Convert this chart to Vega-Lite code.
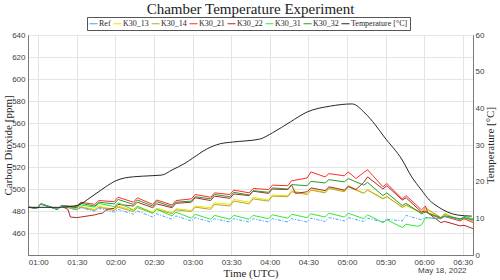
{
  "$schema": "https://vega.github.io/schema/vega-lite/v6.json",
  "width": 445,
  "height": 220,
  "autosize": {"type": "none"},
  "padding": {"left": 28, "top": 35, "right": 27, "bottom": 25},
  "title": {"text": "Chamber Temperature Experiment", "font": "Liberation Serif", "fontSize": 15, "fontWeight": "normal", "color": "#222222", "anchor": "middle", "offset": 0},
  "datasets": {
    "co2": [
      {"t":"2022-05-18T00:52:00Z","s":"Ref","v":483.5},{"t":"2022-05-18T00:59:00Z","s":"Ref","v":482.5},{"t":"2022-05-18T01:02:00Z","s":"Ref","v":486.5},{"t":"2022-05-18T01:15:00Z","s":"Ref","v":481.5},{"t":"2022-05-18T01:18:00Z","s":"Ref","v":484.5},{"t":"2022-05-18T01:30:00Z","s":"Ref","v":481},{"t":"2022-05-18T01:33:00Z","s":"Ref","v":483},{"t":"2022-05-18T01:44:00Z","s":"Ref","v":480},{"t":"2022-05-18T01:47:00Z","s":"Ref","v":482.5},{"t":"2022-05-18T01:59:00Z","s":"Ref","v":479},{"t":"2022-05-18T02:02:00Z","s":"Ref","v":481.5},{"t":"2022-05-18T02:14:00Z","s":"Ref","v":477},{"t":"2022-05-18T02:17:00Z","s":"Ref","v":480},{"t":"2022-05-18T02:29:00Z","s":"Ref","v":474.5},{"t":"2022-05-18T02:32:00Z","s":"Ref","v":477.5},{"t":"2022-05-18T02:44:00Z","s":"Ref","v":472.5},{"t":"2022-05-18T02:47:00Z","s":"Ref","v":475.5},{"t":"2022-05-18T02:59:00Z","s":"Ref","v":471},{"t":"2022-05-18T03:02:00Z","s":"Ref","v":474},{"t":"2022-05-18T03:14:00Z","s":"Ref","v":470},{"t":"2022-05-18T03:17:00Z","s":"Ref","v":473},{"t":"2022-05-18T03:29:00Z","s":"Ref","v":470},{"t":"2022-05-18T03:32:00Z","s":"Ref","v":473},{"t":"2022-05-18T03:44:00Z","s":"Ref","v":470},{"t":"2022-05-18T03:47:00Z","s":"Ref","v":473},{"t":"2022-05-18T03:59:00Z","s":"Ref","v":470},{"t":"2022-05-18T04:02:00Z","s":"Ref","v":473},{"t":"2022-05-18T04:14:00Z","s":"Ref","v":470},{"t":"2022-05-18T04:17:00Z","s":"Ref","v":473},{"t":"2022-05-18T04:29:00Z","s":"Ref","v":470},{"t":"2022-05-18T04:32:00Z","s":"Ref","v":473.5},{"t":"2022-05-18T04:43:00Z","s":"Ref","v":470.5},{"t":"2022-05-18T04:46:00Z","s":"Ref","v":474},{"t":"2022-05-18T04:58:00Z","s":"Ref","v":471},{"t":"2022-05-18T05:01:00Z","s":"Ref","v":474},{"t":"2022-05-18T05:13:00Z","s":"Ref","v":470.5},{"t":"2022-05-18T05:16:00Z","s":"Ref","v":473.5},{"t":"2022-05-18T05:28:00Z","s":"Ref","v":470},{"t":"2022-05-18T05:31:00Z","s":"Ref","v":472.5},{"t":"2022-05-18T05:43:00Z","s":"Ref","v":471},{"t":"2022-05-18T05:46:00Z","s":"Ref","v":476},{"t":"2022-05-18T05:58:00Z","s":"Ref","v":472},{"t":"2022-05-18T06:01:00Z","s":"Ref","v":474},{"t":"2022-05-18T06:13:00Z","s":"Ref","v":473},{"t":"2022-05-18T06:16:00Z","s":"Ref","v":475},{"t":"2022-05-18T06:28:00Z","s":"Ref","v":472},{"t":"2022-05-18T06:31:00Z","s":"Ref","v":474},{"t":"2022-05-18T06:38:00Z","s":"Ref","v":472},
      {"t":"2022-05-18T00:52:00Z","s":"K30_13","v":483.5},{"t":"2022-05-18T00:59:00Z","s":"K30_13","v":482.5},{"t":"2022-05-18T01:02:00Z","s":"K30_13","v":486.5},{"t":"2022-05-18T01:15:00Z","s":"K30_13","v":481.5},{"t":"2022-05-18T01:18:00Z","s":"K30_13","v":485},{"t":"2022-05-18T01:30:00Z","s":"K30_13","v":481.5},{"t":"2022-05-18T01:33:00Z","s":"K30_13","v":484},{"t":"2022-05-18T01:44:00Z","s":"K30_13","v":481.5},{"t":"2022-05-18T01:47:00Z","s":"K30_13","v":484.5},{"t":"2022-05-18T01:59:00Z","s":"K30_13","v":481.5},{"t":"2022-05-18T02:02:00Z","s":"K30_13","v":484.5},{"t":"2022-05-18T02:14:00Z","s":"K30_13","v":480.5},{"t":"2022-05-18T02:17:00Z","s":"K30_13","v":484},{"t":"2022-05-18T02:29:00Z","s":"K30_13","v":479},{"t":"2022-05-18T02:32:00Z","s":"K30_13","v":482.5},{"t":"2022-05-18T02:44:00Z","s":"K30_13","v":478.5},{"t":"2022-05-18T02:47:00Z","s":"K30_13","v":482},{"t":"2022-05-18T02:59:00Z","s":"K30_13","v":480.5},{"t":"2022-05-18T03:02:00Z","s":"K30_13","v":484.5},{"t":"2022-05-18T03:14:00Z","s":"K30_13","v":483},{"t":"2022-05-18T03:17:00Z","s":"K30_13","v":487.5},{"t":"2022-05-18T03:29:00Z","s":"K30_13","v":486},{"t":"2022-05-18T03:32:00Z","s":"K30_13","v":490.5},{"t":"2022-05-18T03:44:00Z","s":"K30_13","v":488},{"t":"2022-05-18T03:47:00Z","s":"K30_13","v":492.5},{"t":"2022-05-18T03:59:00Z","s":"K30_13","v":490},{"t":"2022-05-18T04:02:00Z","s":"K30_13","v":494.5},{"t":"2022-05-18T04:14:00Z","s":"K30_13","v":494},{"t":"2022-05-18T04:17:00Z","s":"K30_13","v":498.5},{"t":"2022-05-18T04:29:00Z","s":"K30_13","v":495.5},{"t":"2022-05-18T04:32:00Z","s":"K30_13","v":499.5},{"t":"2022-05-18T04:43:00Z","s":"K30_13","v":497},{"t":"2022-05-18T04:46:00Z","s":"K30_13","v":501},{"t":"2022-05-18T04:58:00Z","s":"K30_13","v":498.5},{"t":"2022-05-18T05:01:00Z","s":"K30_13","v":503},{"t":"2022-05-18T05:13:00Z","s":"K30_13","v":496.5},{"t":"2022-05-18T05:16:00Z","s":"K30_13","v":499.5},{"t":"2022-05-18T05:28:00Z","s":"K30_13","v":491.5},{"t":"2022-05-18T05:31:00Z","s":"K30_13","v":493.5},{"t":"2022-05-18T05:43:00Z","s":"K30_13","v":483},{"t":"2022-05-18T05:46:00Z","s":"K30_13","v":485},{"t":"2022-05-18T05:58:00Z","s":"K30_13","v":478},{"t":"2022-05-18T06:01:00Z","s":"K30_13","v":482},{"t":"2022-05-18T06:13:00Z","s":"K30_13","v":473.5},{"t":"2022-05-18T06:16:00Z","s":"K30_13","v":478},{"t":"2022-05-18T06:28:00Z","s":"K30_13","v":471.5},{"t":"2022-05-18T06:31:00Z","s":"K30_13","v":473},{"t":"2022-05-18T06:38:00Z","s":"K30_13","v":471},
      {"t":"2022-05-18T00:52:00Z","s":"K30_14","v":483.3},{"t":"2022-05-18T00:59:00Z","s":"K30_14","v":482.3},{"t":"2022-05-18T01:02:00Z","s":"K30_14","v":486},{"t":"2022-05-18T01:15:00Z","s":"K30_14","v":481.3},{"t":"2022-05-18T01:18:00Z","s":"K30_14","v":484.5},{"t":"2022-05-18T01:30:00Z","s":"K30_14","v":481},{"t":"2022-05-18T01:33:00Z","s":"K30_14","v":483.5},{"t":"2022-05-18T01:44:00Z","s":"K30_14","v":480.5},{"t":"2022-05-18T01:47:00Z","s":"K30_14","v":483.5},{"t":"2022-05-18T01:59:00Z","s":"K30_14","v":480.5},{"t":"2022-05-18T02:02:00Z","s":"K30_14","v":483.5},{"t":"2022-05-18T02:14:00Z","s":"K30_14","v":479.5},{"t":"2022-05-18T02:17:00Z","s":"K30_14","v":483},{"t":"2022-05-18T02:29:00Z","s":"K30_14","v":478},{"t":"2022-05-18T02:32:00Z","s":"K30_14","v":481.5},{"t":"2022-05-18T02:44:00Z","s":"K30_14","v":477.5},{"t":"2022-05-18T02:47:00Z","s":"K30_14","v":481},{"t":"2022-05-18T02:59:00Z","s":"K30_14","v":479.5},{"t":"2022-05-18T03:02:00Z","s":"K30_14","v":483.5},{"t":"2022-05-18T03:14:00Z","s":"K30_14","v":481.5},{"t":"2022-05-18T03:17:00Z","s":"K30_14","v":486},{"t":"2022-05-18T03:29:00Z","s":"K30_14","v":484.5},{"t":"2022-05-18T03:32:00Z","s":"K30_14","v":489},{"t":"2022-05-18T03:44:00Z","s":"K30_14","v":486.5},{"t":"2022-05-18T03:47:00Z","s":"K30_14","v":491},{"t":"2022-05-18T03:59:00Z","s":"K30_14","v":489},{"t":"2022-05-18T04:02:00Z","s":"K30_14","v":493.5},{"t":"2022-05-18T04:14:00Z","s":"K30_14","v":493},{"t":"2022-05-18T04:17:00Z","s":"K30_14","v":497.5},{"t":"2022-05-18T04:29:00Z","s":"K30_14","v":495},{"t":"2022-05-18T04:32:00Z","s":"K30_14","v":499},{"t":"2022-05-18T04:43:00Z","s":"K30_14","v":496.5},{"t":"2022-05-18T04:46:00Z","s":"K30_14","v":500.5},{"t":"2022-05-18T04:58:00Z","s":"K30_14","v":497.5},{"t":"2022-05-18T05:01:00Z","s":"K30_14","v":502},{"t":"2022-05-18T05:13:00Z","s":"K30_14","v":496},{"t":"2022-05-18T05:16:00Z","s":"K30_14","v":499},{"t":"2022-05-18T05:28:00Z","s":"K30_14","v":491},{"t":"2022-05-18T05:31:00Z","s":"K30_14","v":493},{"t":"2022-05-18T05:43:00Z","s":"K30_14","v":483.5},{"t":"2022-05-18T05:46:00Z","s":"K30_14","v":485.5},{"t":"2022-05-18T05:58:00Z","s":"K30_14","v":478.5},{"t":"2022-05-18T06:01:00Z","s":"K30_14","v":483},{"t":"2022-05-18T06:13:00Z","s":"K30_14","v":474},{"t":"2022-05-18T06:16:00Z","s":"K30_14","v":477},{"t":"2022-05-18T06:28:00Z","s":"K30_14","v":472},{"t":"2022-05-18T06:31:00Z","s":"K30_14","v":474},{"t":"2022-05-18T06:38:00Z","s":"K30_14","v":471.5},
      {"t":"2022-05-18T00:52:00Z","s":"K30_21","v":483.5},{"t":"2022-05-18T00:59:00Z","s":"K30_21","v":482.5},{"t":"2022-05-18T01:02:00Z","s":"K30_21","v":486.5},{"t":"2022-05-18T01:15:00Z","s":"K30_21","v":481.5},{"t":"2022-05-18T01:18:00Z","s":"K30_21","v":485},{"t":"2022-05-18T01:30:00Z","s":"K30_21","v":484},{"t":"2022-05-18T01:33:00Z","s":"K30_21","v":488},{"t":"2022-05-18T01:44:00Z","s":"K30_21","v":486},{"t":"2022-05-18T01:47:00Z","s":"K30_21","v":489.5},{"t":"2022-05-18T01:59:00Z","s":"K30_21","v":488.5},{"t":"2022-05-18T02:02:00Z","s":"K30_21","v":492.5},{"t":"2022-05-18T02:14:00Z","s":"K30_21","v":488},{"t":"2022-05-18T02:17:00Z","s":"K30_21","v":492},{"t":"2022-05-18T02:29:00Z","s":"K30_21","v":486},{"t":"2022-05-18T02:32:00Z","s":"K30_21","v":490},{"t":"2022-05-18T02:44:00Z","s":"K30_21","v":485.5},{"t":"2022-05-18T02:47:00Z","s":"K30_21","v":489.5},{"t":"2022-05-18T02:59:00Z","s":"K30_21","v":491},{"t":"2022-05-18T03:02:00Z","s":"K30_21","v":495},{"t":"2022-05-18T03:14:00Z","s":"K30_21","v":492.5},{"t":"2022-05-18T03:17:00Z","s":"K30_21","v":496.5},{"t":"2022-05-18T03:29:00Z","s":"K30_21","v":495},{"t":"2022-05-18T03:32:00Z","s":"K30_21","v":499},{"t":"2022-05-18T03:44:00Z","s":"K30_21","v":496.5},{"t":"2022-05-18T03:47:00Z","s":"K30_21","v":500.5},{"t":"2022-05-18T03:59:00Z","s":"K30_21","v":499.5},{"t":"2022-05-18T04:02:00Z","s":"K30_21","v":503.5},{"t":"2022-05-18T04:14:00Z","s":"K30_21","v":503},{"t":"2022-05-18T04:17:00Z","s":"K30_21","v":507.5},{"t":"2022-05-18T04:29:00Z","s":"K30_21","v":510},{"t":"2022-05-18T04:32:00Z","s":"K30_21","v":515.5},{"t":"2022-05-18T04:43:00Z","s":"K30_21","v":511},{"t":"2022-05-18T04:46:00Z","s":"K30_21","v":514},{"t":"2022-05-18T04:58:00Z","s":"K30_21","v":512},{"t":"2022-05-18T05:01:00Z","s":"K30_21","v":515.5},{"t":"2022-05-18T05:07:00Z","s":"K30_21","v":509.5},{"t":"2022-05-18T05:13:00Z","s":"K30_21","v":515},{"t":"2022-05-18T05:16:00Z","s":"K30_21","v":517.5},{"t":"2022-05-18T05:28:00Z","s":"K30_21","v":502},{"t":"2022-05-18T05:31:00Z","s":"K30_21","v":505},{"t":"2022-05-18T05:43:00Z","s":"K30_21","v":491},{"t":"2022-05-18T05:46:00Z","s":"K30_21","v":494},{"t":"2022-05-18T05:58:00Z","s":"K30_21","v":481},{"t":"2022-05-18T06:01:00Z","s":"K30_21","v":484.5},{"t":"2022-05-18T06:03:00Z","s":"K30_21","v":478},{"t":"2022-05-18T06:13:00Z","s":"K30_21","v":473},{"t":"2022-05-18T06:16:00Z","s":"K30_21","v":475},{"t":"2022-05-18T06:28:00Z","s":"K30_21","v":471},{"t":"2022-05-18T06:31:00Z","s":"K30_21","v":473},{"t":"2022-05-18T06:38:00Z","s":"K30_21","v":469.5},
      {"t":"2022-05-18T00:52:00Z","s":"K30_22","v":483.5},{"t":"2022-05-18T00:59:00Z","s":"K30_22","v":482.5},{"t":"2022-05-18T01:02:00Z","s":"K30_22","v":486.5},{"t":"2022-05-18T01:15:00Z","s":"K30_22","v":481.5},{"t":"2022-05-18T01:18:00Z","s":"K30_22","v":485},{"t":"2022-05-18T01:21:00Z","s":"K30_22","v":482.5},{"t":"2022-05-18T01:23:00Z","s":"K30_22","v":481.5},{"t":"2022-05-18T01:25:00Z","s":"K30_22","v":474.5},{"t":"2022-05-18T01:30:00Z","s":"K30_22","v":474},{"t":"2022-05-18T01:33:00Z","s":"K30_22","v":474.5},{"t":"2022-05-18T01:44:00Z","s":"K30_22","v":476.5},{"t":"2022-05-18T01:47:00Z","s":"K30_22","v":477.5},{"t":"2022-05-18T01:50:00Z","s":"K30_22","v":478},{"t":"2022-05-18T01:53:00Z","s":"K30_22","v":481.5},{"t":"2022-05-18T01:59:00Z","s":"K30_22","v":482.5},{"t":"2022-05-18T02:02:00Z","s":"K30_22","v":486},{"t":"2022-05-18T02:14:00Z","s":"K30_22","v":484.5},{"t":"2022-05-18T02:17:00Z","s":"K30_22","v":488},{"t":"2022-05-18T02:29:00Z","s":"K30_22","v":483},{"t":"2022-05-18T02:32:00Z","s":"K30_22","v":486.5},{"t":"2022-05-18T02:44:00Z","s":"K30_22","v":483},{"t":"2022-05-18T02:47:00Z","s":"K30_22","v":487},{"t":"2022-05-18T02:59:00Z","s":"K30_22","v":488},{"t":"2022-05-18T03:02:00Z","s":"K30_22","v":492},{"t":"2022-05-18T03:14:00Z","s":"K30_22","v":489.5},{"t":"2022-05-18T03:17:00Z","s":"K30_22","v":493.5},{"t":"2022-05-18T03:29:00Z","s":"K30_22","v":491.5},{"t":"2022-05-18T03:32:00Z","s":"K30_22","v":495.5},{"t":"2022-05-18T03:44:00Z","s":"K30_22","v":494},{"t":"2022-05-18T03:47:00Z","s":"K30_22","v":498},{"t":"2022-05-18T03:59:00Z","s":"K30_22","v":496},{"t":"2022-05-18T04:02:00Z","s":"K30_22","v":500},{"t":"2022-05-18T04:14:00Z","s":"K30_22","v":499.5},{"t":"2022-05-18T04:17:00Z","s":"K30_22","v":503.5},{"t":"2022-05-18T04:20:00Z","s":"K30_22","v":496},{"t":"2022-05-18T04:29:00Z","s":"K30_22","v":497.5},{"t":"2022-05-18T04:32:00Z","s":"K30_22","v":501},{"t":"2022-05-18T04:43:00Z","s":"K30_22","v":498.5},{"t":"2022-05-18T04:46:00Z","s":"K30_22","v":502},{"t":"2022-05-18T04:58:00Z","s":"K30_22","v":499},{"t":"2022-05-18T05:01:00Z","s":"K30_22","v":502.5},{"t":"2022-05-18T05:07:00Z","s":"K30_22","v":499.5},{"t":"2022-05-18T05:13:00Z","s":"K30_22","v":506},{"t":"2022-05-18T05:16:00Z","s":"K30_22","v":511},{"t":"2022-05-18T05:28:00Z","s":"K30_22","v":500},{"t":"2022-05-18T05:31:00Z","s":"K30_22","v":503},{"t":"2022-05-18T05:43:00Z","s":"K30_22","v":490},{"t":"2022-05-18T05:46:00Z","s":"K30_22","v":492},{"t":"2022-05-18T05:58:00Z","s":"K30_22","v":479},{"t":"2022-05-18T06:01:00Z","s":"K30_22","v":480},{"t":"2022-05-18T06:13:00Z","s":"K30_22","v":469.5},{"t":"2022-05-18T06:16:00Z","s":"K30_22","v":470.5},{"t":"2022-05-18T06:28:00Z","s":"K30_22","v":466.5},{"t":"2022-05-18T06:31:00Z","s":"K30_22","v":467},{"t":"2022-05-18T06:38:00Z","s":"K30_22","v":464},
      {"t":"2022-05-18T00:52:00Z","s":"K30_31","v":483.5},{"t":"2022-05-18T00:59:00Z","s":"K30_31","v":482.5},{"t":"2022-05-18T01:02:00Z","s":"K30_31","v":486.5},{"t":"2022-05-18T01:15:00Z","s":"K30_31","v":481.5},{"t":"2022-05-18T01:18:00Z","s":"K30_31","v":485},{"t":"2022-05-18T01:30:00Z","s":"K30_31","v":482.5},{"t":"2022-05-18T01:33:00Z","s":"K30_31","v":485.5},{"t":"2022-05-18T01:44:00Z","s":"K30_31","v":483.5},{"t":"2022-05-18T01:47:00Z","s":"K30_31","v":487},{"t":"2022-05-18T01:59:00Z","s":"K30_31","v":484},{"t":"2022-05-18T02:02:00Z","s":"K30_31","v":487.5},{"t":"2022-05-18T02:14:00Z","s":"K30_31","v":481},{"t":"2022-05-18T02:17:00Z","s":"K30_31","v":484.5},{"t":"2022-05-18T02:29:00Z","s":"K30_31","v":478},{"t":"2022-05-18T02:32:00Z","s":"K30_31","v":481.5},{"t":"2022-05-18T02:44:00Z","s":"K30_31","v":475.5},{"t":"2022-05-18T02:47:00Z","s":"K30_31","v":479},{"t":"2022-05-18T02:59:00Z","s":"K30_31","v":473.5},{"t":"2022-05-18T03:02:00Z","s":"K30_31","v":477},{"t":"2022-05-18T03:14:00Z","s":"K30_31","v":472.5},{"t":"2022-05-18T03:17:00Z","s":"K30_31","v":476},{"t":"2022-05-18T03:29:00Z","s":"K30_31","v":472.5},{"t":"2022-05-18T03:32:00Z","s":"K30_31","v":476},{"t":"2022-05-18T03:44:00Z","s":"K30_31","v":472.5},{"t":"2022-05-18T03:47:00Z","s":"K30_31","v":476},{"t":"2022-05-18T03:59:00Z","s":"K30_31","v":473},{"t":"2022-05-18T04:02:00Z","s":"K30_31","v":476.5},{"t":"2022-05-18T04:14:00Z","s":"K30_31","v":473.5},{"t":"2022-05-18T04:17:00Z","s":"K30_31","v":477},{"t":"2022-05-18T04:29:00Z","s":"K30_31","v":474},{"t":"2022-05-18T04:32:00Z","s":"K30_31","v":477.5},{"t":"2022-05-18T04:43:00Z","s":"K30_31","v":474.5},{"t":"2022-05-18T04:46:00Z","s":"K30_31","v":478},{"t":"2022-05-18T04:58:00Z","s":"K30_31","v":474.5},{"t":"2022-05-18T05:01:00Z","s":"K30_31","v":478},{"t":"2022-05-18T05:13:00Z","s":"K30_31","v":473},{"t":"2022-05-18T05:16:00Z","s":"K30_31","v":476.5},{"t":"2022-05-18T05:28:00Z","s":"K30_31","v":469.5},{"t":"2022-05-18T05:31:00Z","s":"K30_31","v":472},{"t":"2022-05-18T05:43:00Z","s":"K30_31","v":465},{"t":"2022-05-18T05:46:00Z","s":"K30_31","v":468},{"t":"2022-05-18T05:55:00Z","s":"K30_31","v":466},{"t":"2022-05-18T05:58:00Z","s":"K30_31","v":467.5},{"t":"2022-05-18T06:01:00Z","s":"K30_31","v":474},{"t":"2022-05-18T06:13:00Z","s":"K30_31","v":473},{"t":"2022-05-18T06:16:00Z","s":"K30_31","v":475.5},{"t":"2022-05-18T06:28:00Z","s":"K30_31","v":472.5},{"t":"2022-05-18T06:31:00Z","s":"K30_31","v":475},{"t":"2022-05-18T06:38:00Z","s":"K30_31","v":473},
      {"t":"2022-05-18T00:52:00Z","s":"K30_32","v":483.5},{"t":"2022-05-18T00:59:00Z","s":"K30_32","v":482.5},{"t":"2022-05-18T01:02:00Z","s":"K30_32","v":486.5},{"t":"2022-05-18T01:15:00Z","s":"K30_32","v":481.5},{"t":"2022-05-18T01:18:00Z","s":"K30_32","v":485},{"t":"2022-05-18T01:30:00Z","s":"K30_32","v":483},{"t":"2022-05-18T01:33:00Z","s":"K30_32","v":487},{"t":"2022-05-18T01:44:00Z","s":"K30_32","v":484.5},{"t":"2022-05-18T01:47:00Z","s":"K30_32","v":488},{"t":"2022-05-18T01:59:00Z","s":"K30_32","v":486.5},{"t":"2022-05-18T02:02:00Z","s":"K30_32","v":490.5},{"t":"2022-05-18T02:14:00Z","s":"K30_32","v":486},{"t":"2022-05-18T02:17:00Z","s":"K30_32","v":490},{"t":"2022-05-18T02:29:00Z","s":"K30_32","v":484.5},{"t":"2022-05-18T02:32:00Z","s":"K30_32","v":488.5},{"t":"2022-05-18T02:44:00Z","s":"K30_32","v":484},{"t":"2022-05-18T02:47:00Z","s":"K30_32","v":488},{"t":"2022-05-18T02:59:00Z","s":"K30_32","v":489},{"t":"2022-05-18T03:02:00Z","s":"K30_32","v":493},{"t":"2022-05-18T03:14:00Z","s":"K30_32","v":491},{"t":"2022-05-18T03:17:00Z","s":"K30_32","v":495},{"t":"2022-05-18T03:29:00Z","s":"K30_32","v":493},{"t":"2022-05-18T03:32:00Z","s":"K30_32","v":497},{"t":"2022-05-18T03:44:00Z","s":"K30_32","v":494.5},{"t":"2022-05-18T03:47:00Z","s":"K30_32","v":498.5},{"t":"2022-05-18T03:59:00Z","s":"K30_32","v":497},{"t":"2022-05-18T04:02:00Z","s":"K30_32","v":501},{"t":"2022-05-18T04:14:00Z","s":"K30_32","v":500},{"t":"2022-05-18T04:17:00Z","s":"K30_32","v":504},{"t":"2022-05-18T04:29:00Z","s":"K30_32","v":503},{"t":"2022-05-18T04:32:00Z","s":"K30_32","v":507},{"t":"2022-05-18T04:43:00Z","s":"K30_32","v":505.5},{"t":"2022-05-18T04:46:00Z","s":"K30_32","v":508.5},{"t":"2022-05-18T04:58:00Z","s":"K30_32","v":506.5},{"t":"2022-05-18T05:01:00Z","s":"K30_32","v":509.5},{"t":"2022-05-18T05:13:00Z","s":"K30_32","v":503.5},{"t":"2022-05-18T05:16:00Z","s":"K30_32","v":506},{"t":"2022-05-18T05:28:00Z","s":"K30_32","v":494},{"t":"2022-05-18T05:31:00Z","s":"K30_32","v":496.5},{"t":"2022-05-18T05:43:00Z","s":"K30_32","v":485},{"t":"2022-05-18T05:46:00Z","s":"K30_32","v":487},{"t":"2022-05-18T05:58:00Z","s":"K30_32","v":477.5},{"t":"2022-05-18T06:01:00Z","s":"K30_32","v":479},{"t":"2022-05-18T06:13:00Z","s":"K30_32","v":474},{"t":"2022-05-18T06:16:00Z","s":"K30_32","v":475.5},{"t":"2022-05-18T06:28:00Z","s":"K30_32","v":473},{"t":"2022-05-18T06:31:00Z","s":"K30_32","v":474},{"t":"2022-05-18T06:38:00Z","s":"K30_32","v":472}
    ],
    "temp": [
      {"t":"2022-05-18T00:52:00Z","s":"Temperature [°C]","temp":13.0},{"t":"2022-05-18T01:17:00Z","s":"Temperature [°C]","temp":13.0},{"t":"2022-05-18T01:24:00Z","s":"Temperature [°C]","temp":13.2},{"t":"2022-05-18T01:31:00Z","s":"Temperature [°C]","temp":13.6},{"t":"2022-05-18T01:41:00Z","s":"Temperature [°C]","temp":15.8},{"t":"2022-05-18T01:52:00Z","s":"Temperature [°C]","temp":18.5},{"t":"2022-05-18T02:00:00Z","s":"Temperature [°C]","temp":20.2},{"t":"2022-05-18T02:07:00Z","s":"Temperature [°C]","temp":21.0},{"t":"2022-05-18T02:21:00Z","s":"Temperature [°C]","temp":21.5},{"t":"2022-05-18T02:36:00Z","s":"Temperature [°C]","temp":21.8},{"t":"2022-05-18T02:44:00Z","s":"Temperature [°C]","temp":23.2},{"t":"2022-05-18T02:54:00Z","s":"Temperature [°C]","temp":25.0},{"t":"2022-05-18T03:00:00Z","s":"Temperature [°C]","temp":26.4},{"t":"2022-05-18T03:11:00Z","s":"Temperature [°C]","temp":28.9},{"t":"2022-05-18T03:21:00Z","s":"Temperature [°C]","temp":30.3},{"t":"2022-05-18T03:31:00Z","s":"Temperature [°C]","temp":30.8},{"t":"2022-05-18T03:52:00Z","s":"Temperature [°C]","temp":31.6},{"t":"2022-05-18T04:02:00Z","s":"Temperature [°C]","temp":33.3},{"t":"2022-05-18T04:16:00Z","s":"Temperature [°C]","temp":36.3},{"t":"2022-05-18T04:29:00Z","s":"Temperature [°C]","temp":39.0},{"t":"2022-05-18T04:47:00Z","s":"Temperature [°C]","temp":40.6},{"t":"2022-05-18T05:04:00Z","s":"Temperature [°C]","temp":41.2},{"t":"2022-05-18T05:14:00Z","s":"Temperature [°C]","temp":38.7},{"t":"2022-05-18T05:22:00Z","s":"Temperature [°C]","temp":35.5},{"t":"2022-05-18T05:29:00Z","s":"Temperature [°C]","temp":32.2},{"t":"2022-05-18T05:43:00Z","s":"Temperature [°C]","temp":25.9},{"t":"2022-05-18T05:50:00Z","s":"Temperature [°C]","temp":21.5},{"t":"2022-05-18T05:58:00Z","s":"Temperature [°C]","temp":17.7},{"t":"2022-05-18T06:04:00Z","s":"Temperature [°C]","temp":15.0},{"t":"2022-05-18T06:11:00Z","s":"Temperature [°C]","temp":13.1},{"t":"2022-05-18T06:26:00Z","s":"Temperature [°C]","temp":10.9},{"t":"2022-05-18T06:37:00Z","s":"Temperature [°C]","temp":10.6}
    ],
    "note": [{"t":"2022-05-18T06:33:00Z","label":"May 18, 2022"}]
  },
  "layer": [
    {
      "data": {"name": "co2"},
      "transform": [{"filter": "datum.s !== 'Ref'"}],
      "mark": {"type": "line", "strokeWidth": 1, "clip": true},
      "encoding": {
        "x": {"field": "t", "type": "temporal",
              "scale": {"type": "utc"},
              "axis": {"title": "Time (UTC)", "format": "%H:%M", "grid": true, "tickSize": 0, "labelPadding": 3, "titleBaseline": "alphabetic", "titleY": 21}},
        "y": {"field": "v", "type": "quantitative",
              "scale": {"domain": [440, 640], "nice": false, "zero": false},
              "axis": {"orient": "left", "title": "Carbon Dioxide [ppm]", "values": [460,480,500,520,540,560,580,600,620,640], "grid": true, "tickSize": 0, "labelPadding": 3, "titleX": -20, "titleBaseline": "middle"}},
        "color": {"field": "s", "type": "nominal",
                  "scale": {"domain": ["Ref","K30_13","K30_14","K30_21","K30_22","K30_31","K30_32","Temperature [°C]"],
                            "range": ["#4d9eff","#e8e400","#bca52c","#ff2b2b","#a82a2a","#2bee2b","#2a9a2a","#262626"]},
                  "legend": {"title": null}}
      }
    },
    {
      "data": {"name": "co2"},
      "transform": [{"filter": "datum.s === 'Ref'"}],
      "mark": {"type": "line", "strokeWidth": 1, "strokeDash": [3, 1.5, 1, 1.5], "clip": true},
      "encoding": {
        "x": {"field": "t", "type": "temporal"},
        "y": {"field": "v", "type": "quantitative", "scale": {"domain": [440, 640], "nice": false, "zero": false}, "axis": null},
        "color": {"field": "s", "type": "nominal"}
      }
    },
    {
      "data": {"name": "temp"},
      "mark": {"type": "line", "strokeWidth": 1, "interpolate": "monotone", "clip": true},
      "encoding": {
        "x": {"field": "t", "type": "temporal"},
        "y": {"field": "temp", "type": "quantitative",
              "scale": {"domain": [0, 60], "nice": false, "zero": false},
              "axis": {"orient": "right", "title": "Temperature [°C]", "titleAngle": 270, "values": [0,10,20,30,40,50,60], "grid": false, "tickSize": 0, "labelPadding": 2, "titleX": 17, "titleBaseline": "middle"}},
        "color": {"field": "s", "type": "nominal"}
      }
    },
    {
      "data": {"name": "note"},
      "mark": {"type": "text", "align": "right", "baseline": "middle", "dy": 16, "font": "Liberation Sans", "fontSize": 8, "color": "#404040", "clip": false},
      "encoding": {
        "x": {"field": "t", "type": "temporal"},
        "y": {"datum": 440, "type": "quantitative", "scale": {"domain": [440, 640], "nice": false, "zero": false}, "axis": null},
        "text": {"field": "label"}
      }
    }
  ],
  "resolve": {"scale": {"y": "independent"}},
  "config": {
    "view": {"stroke": "#7a7a7a"},
    "axis": {"domainColor": "#7a7a7a", "tickColor": "#7a7a7a", "gridColor": "#e4e4e4", "gridWidth": 1,
             "labelFont": "Liberation Sans", "labelFontSize": 8, "labelColor": "#404040",
             "titleFont": "Liberation Serif", "titleFontSize": 11, "titleFontWeight": "normal", "titleColor": "#262626"},
    "legend": {"orient": "none", "legendX": 59, "legendY": -18, "direction": "horizontal", "columns": 8,
               "symbolType": "stroke", "symbolStrokeWidth": 1, "symbolSize": 64,
               "labelFont": "Liberation Serif", "labelFontSize": 8, "labelColor": "#262626", "labelOffset": 1,
               "columnPadding": 0, "padding": 2, "rowPadding": 0,
               "strokeColor": "#555555", "fillColor": "white"}
  }
}
